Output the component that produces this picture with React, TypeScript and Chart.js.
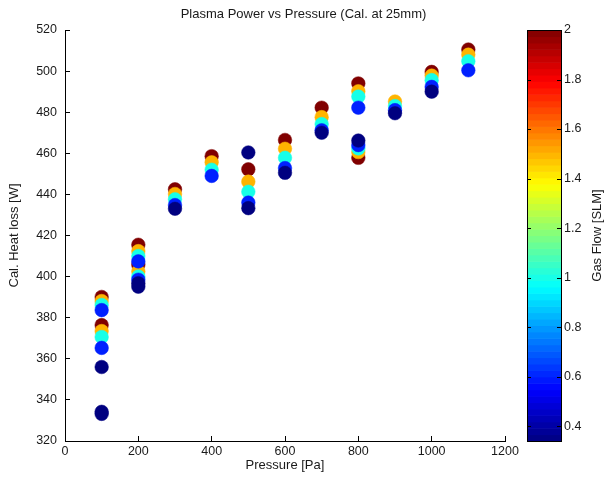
import React, { useEffect, useRef } from "react";
import { Chart, registerables } from "chart.js";

Chart.register(...registerables);

const TITLE = "Plasma Power vs Pressure (Cal. at 25mm)";
const X_TITLE = "Pressure [Pa]";
const Y_TITLE = "Cal. Heat loss [W]";
const CB_TITLE = "Gas Flow [SLM]";

// Gas flow of each group [SLM]
const gasFlows = [2.0, 1.5, 1.0, 0.6, 0.34];

// Flow 2.0 SLM
const pressure20 = [100, 100, 200, 200, 300, 400, 500, 600, 700, 800, 800, 1000, 1100];
const heat20 = [390.1, 376.4, 415.5, 405.8, 442.5, 458.6, 452.2, 466.5, 482.2, 494.0, 457.8, 499.6, 510.5];

// Flow 1.5 SLM
const pressure15 = [100, 100, 200, 200, 300, 400, 500, 600, 700, 800, 800, 900, 1000, 1100];
const heat15 = [388.1, 373.5, 412.4, 402.5, 440.2, 455.6, 446.2, 462.2, 477.6, 490.2, 460.6, 485.2, 497.8, 508.0];

// Flow 1.0 SLM
const pressure10 = [100, 100, 200, 200, 300, 400, 500, 600, 700, 800, 800, 900, 1000, 1100];
const heat10 = [386.2, 370.6, 410.0, 400.0, 437.6, 452.0, 441.3, 457.8, 474.2, 487.6, 462.4, 483.0, 495.6, 504.8];

// Flow 0.6 SLM
const pressure06 = [100, 100, 200, 200, 300, 400, 500, 600, 700, 800, 800, 900, 1000, 1100];
const heat06 = [383.7, 365.3, 407.4, 398.5, 434.8, 449.0, 436.0, 452.8, 471.2, 482.2, 464.0, 481.0, 492.3, 500.4];

// Flow 0.34 SLM
const pressure034 = [100, 100, 100, 200, 200, 300, 500, 500, 600, 700, 800, 900, 1000];
const heat034 = [356.0, 334.2, 333.2, 396.8, 395.1, 433.0, 460.4, 433.3, 450.5, 470.0, 466.2, 479.5, 490.0];

const groupPressures = [pressure20, pressure15, pressure10, pressure06, pressure034];
const groupHeats = [heat20, heat15, heat10, heat06, heat034];

const CB_MIN = 0.34;
const CB_MAX = 2;

const FONT = "'Liberation Sans', Arial, sans-serif";
const TEXT = "#1a1a1a";

function clamp01(v: number) {
  return Math.max(0, Math.min(1, v));
}
function jet(t: number) {
  const r = clamp01(1.5 - Math.abs(4 * t - 3));
  const g = clamp01(1.5 - Math.abs(4 * t - 2));
  const b = clamp01(1.5 - Math.abs(4 * t - 1));
  return `rgb(${Math.round(r * 255)},${Math.round(g * 255)},${Math.round(b * 255)})`;
}
function flowColor(f: number) {
  return jet((f - CB_MIN) / (CB_MAX - CB_MIN));
}

const colorbarPlugin = {
  id: "colorbar",
  afterDraw(chart: any) {
    const s = chart.scales.cb;
    if (!s) return;
    const ctx = chart.ctx;
    const left = s.left + 22;
    const right = s.left + 56;
    const n = 64;
    ctx.save();
    for (let i = 0; i < n; i++) {
      const v0 = CB_MIN + ((CB_MAX - CB_MIN) * i) / n;
      const v1 = CB_MIN + ((CB_MAX - CB_MIN) * (i + 1)) / n;
      const y0 = s.getPixelForValue(v0);
      const y1 = s.getPixelForValue(v1);
      ctx.fillStyle = jet((i + 0.5) / n);
      ctx.fillRect(left, y1, right - left, y0 - y1 + 0.6);
    }
    ctx.strokeStyle = "#000";
    ctx.lineWidth = 1;
    ctx.strokeRect(left + 0.5, s.top + 0.5, right - left, s.bottom - s.top);
    ctx.beginPath();
    s.ticks.forEach((t: any) => {
      const y = Math.round(s.getPixelForValue(t.value)) + 0.5;
      ctx.moveTo(left, y);
      ctx.lineTo(left + 4, y);
      ctx.moveTo(right - 4, y);
      ctx.lineTo(right, y);
    });
    ctx.stroke();
    ctx.translate(s.left + 92, (s.top + s.bottom) / 2);
    ctx.rotate(-Math.PI / 2);
    ctx.fillStyle = TEXT;
    ctx.font = `13px ${FONT}`;
    ctx.textAlign = "center";
    ctx.textBaseline = "middle";
    ctx.fillText(CB_TITLE, 0, 0);
    ctx.restore();
  },
};

export default function App() {
  const ref = useRef<HTMLCanvasElement | null>(null);

  useEffect(() => {
    document.body.style.margin = "0";
    document.body.style.overflow = "hidden";
    if (!ref.current) return;

    // datasets: first dataset is drawn on top, so low flows first
    const order = [4, 3, 2, 1, 0];
    const datasets = order.map((gi) => {
      const c = flowColor(gasFlows[gi]);
      return {
        label: `${gasFlows[gi]} SLM`,
        data: groupPressures[gi].map((p, i) => ({ x: p, y: groupHeats[gi][i] })),
        backgroundColor: c,
        borderColor: c,
        borderWidth: 0.5,
        pointRadius: 6.8,
        pointHoverRadius: 6.8,
        pointStyle: "circle",
      };
    });

    const chart = new Chart(ref.current, {
      type: "scatter",
      data: { datasets },
      options: {
        animation: false,
        responsive: true,
        maintainAspectRatio: false,
        layout: { padding: 0 },
        events: [],
        plugins: {
          legend: { display: false },
          tooltip: { enabled: false },
          title: {
            display: true,
            text: TITLE,
            color: TEXT,
            font: { family: FONT, size: 13, weight: "normal" },
            padding: { top: 7, bottom: 7.4 },
          },
        },
        scales: {
          x: {
            type: "linear",
            min: 0,
            max: 1200,
            afterFit: (s: any) => {
              s.height = 45;
            },
            ticks: {
              stepSize: 200,
              color: TEXT,
              font: { family: FONT, size: 12.5 },
              padding: 8,
              maxRotation: 0,
              callback: (v: any) => String(v),
            },
            grid: {
              display: true,
              drawOnChartArea: false,
              drawTicks: true,
              tickLength: -5,
              color: "#000",
            },
            border: { display: true, color: "#000", width: 1 },
            title: {
              display: true,
              text: X_TITLE,
              color: TEXT,
              font: { family: FONT, size: 13 },
              padding: { top: 0, bottom: 13 },
            },
          },
          y: {
            type: "linear",
            min: 320,
            max: 520,
            afterFit: (s: any) => {
              s.width = 65;
            },
            ticks: {
              stepSize: 20,
              color: TEXT,
              font: { family: FONT, size: 12.5 },
              padding: 13,
              callback: (v: any) => String(v),
            },
            grid: {
              display: true,
              drawOnChartArea: false,
              drawTicks: true,
              tickLength: -5,
              color: "#000",
            },
            border: { display: true, color: "#000", width: 1 },
            title: {
              display: true,
              text: Y_TITLE,
              color: TEXT,
              font: { family: FONT, size: 13 },
              padding: { top: 7, bottom: 0 },
            },
          },
          cb: {
            type: "linear",
            axis: "y",
            position: "right",
            min: CB_MIN,
            max: CB_MAX,
            afterFit: (s: any) => {
              s.width = 102;
            },
            ticks: {
              stepSize: 0.2,
              includeBounds: false,
              color: TEXT,
              font: { family: FONT, size: 12.5 },
              padding: 2,
              callback: (v: any) => String(parseFloat(Number(v).toFixed(2))),
            },
            grid: {
              display: true,
              drawOnChartArea: false,
              drawTicks: true,
              tickLength: 57,
              color: "rgba(0,0,0,0)",
            },
            border: { display: false },
          },
        },
      },
      plugins: [colorbarPlugin],
    } as any);

    return () => chart.destroy();
  }, []);

  return (
    <div style={{ width: 607, height: 486, position: "relative" }}>
      <canvas ref={ref} />
    </div>
  );
}
